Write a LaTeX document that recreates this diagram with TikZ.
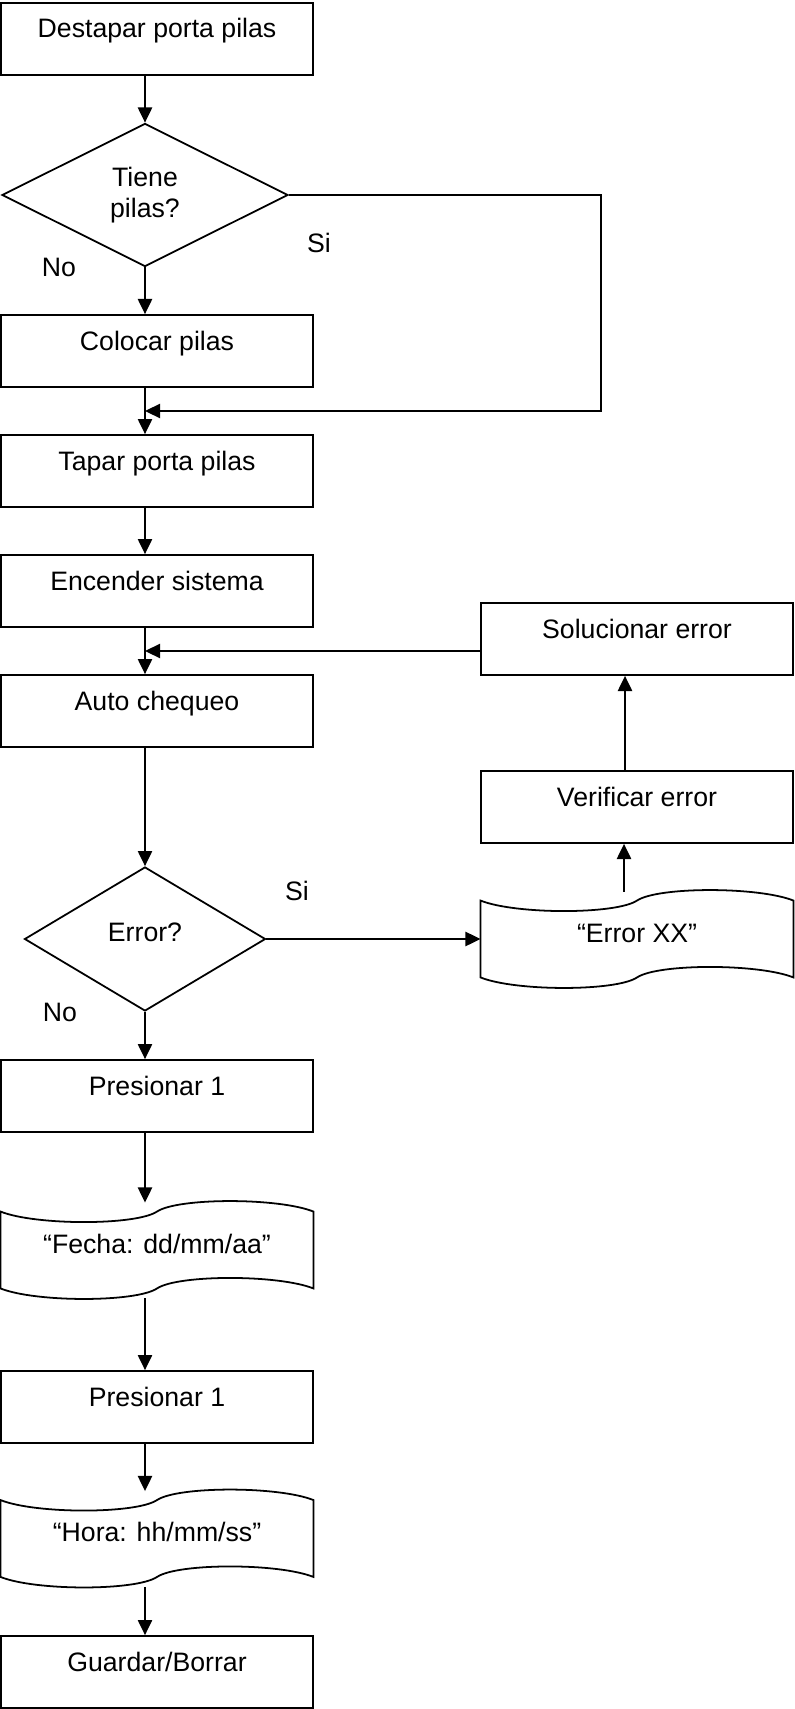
\documentclass[tikz,border=0pt]{standalone}
\usepackage{fontspec}
\setmainfont{Liberation Sans}
\usetikzlibrary{arrows.meta,shapes.geometric,calc}

\tikzset{
  boxline/.style={draw=black, line width=0.8pt},
  stepbox/.style={boxline, rectangle, minimum width=140.4pt, inner xsep=0pt, inner ysep=0pt,
    text height=15.75pt, text depth=16.65pt},
  tapebox/.style={rectangle, draw=none, minimum width=140.4pt, inner xsep=0pt, inner ysep=0pt,
    text height=22.5pt, text depth=20.25pt},
  decision/.style={boxline, diamond, inner sep=0pt, align=center},
  flow/.style={line width=0.8pt, -{Triangle[length=6.8pt,width=6.4pt]}},
  answer/.style={inner sep=0pt},
}

% outline of a punched-tape (display) symbol around a tapebox node
\newcommand\tapeoutline[1]{%
  \draw[boxline]
    ($(#1.north west)+(0,9)$)
      .. controls +(35,14) and +(-21,14) .. ($(#1.north)+(0,9)$)
      .. controls +(21,-14) and +(-35,-14) .. ($(#1.north east)+(0,9)$)
    -- ($(#1.south east)+(0,-10)$)
      .. controls +(-35,-14) and +(21,-14) .. ($(#1.south)+(0,-10)$)
      .. controls +(-21,14) and +(35,14) .. ($(#1.south west)+(0,-10)$)
    -- cycle;}

\begin{document}
\begin{tikzpicture}[x=0.45pt, y=-0.45pt, font=\fontsize{12}{13.9}\selectfont]
  \useasboundingbox (0,0) rectangle (795,1709);

  % main column
  \node[stepbox] (b1) at (157,39) {Destapar porta pilas};
  \node[decision, minimum width=128.7pt, minimum height=64.35pt] (d1) at (145,195) {Tiene\\pilas?};
  \node[stepbox] (b2) at (157,351) {Colocar pilas};
  \node[stepbox] (b3) at (157,471) {Tapar porta pilas};
  \node[stepbox] (b4) at (157,591) {Encender sistema};
  \node[stepbox] (b5) at (157,711) {Auto chequeo};
  \node[decision, minimum width=108.45pt, minimum height=64.8pt, text height=9pt, text depth=7.2pt] (d2) at (145,939) {Error?};
  \node[stepbox] (p1) at (157,1096) {Presionar 1};
  \node[tapebox, minimum height=42.75pt] (fecha) at (157,1250.5) {“Fecha: dd/mm/aa”};
  \node[stepbox] (p2) at (157,1407) {Presionar 1};
  \node[tapebox, minimum height=42.75pt] (hora) at (157,1539) {“Hora: hh/mm/ss”};
  \node[stepbox] (gb) at (157,1672) {Guardar/Borrar};

  % error branch
  \node[stepbox] (sol) at (637,639) {Solucionar error};
  \node[stepbox] (ver) at (637,807) {Verificar error};
  \node[tapebox, minimum height=42.75pt] (errxx) at (637,939.5) {“Error XX”};

  \tapeoutline{fecha}
  \tapeoutline{hora}
  \tapeoutline{errxx}

  % answer labels
  \node[answer] (si1) at (319,243) {Si};
  \node[answer] (no1) at (59,267) {No};
  \node[answer] (si2) at (297,891) {Si};
  \node[answer] (no2) at (60,1012) {No};

  % helper coordinates for connector routing
  \coordinate (spine) at (145,0);
  \coordinate (merge1) at (145,411);
  \coordinate (bypass) at (601,411);
  \coordinate (merge2) at (145,651);
  \coordinate (upx) at (624,0);
  \coordinate (upy) at (625,0);

  % connectors
  \draw[flow] (b1.south -| spine) -- (d1.north);
  \draw[flow] (d1.south) -- (b2.north -| spine);
  \draw[flow] (d1.east) -| (bypass) -- (merge1);
  \draw[flow] (b2.south -| spine) -- (b3.north -| spine);
  \draw[flow] (b3.south -| spine) -- (b4.north -| spine);
  \draw[flow] (b4.south -| spine) -- (b5.north -| spine);
  \draw[flow] (merge2 -| sol.west) -- (merge2);
  \draw[flow] (b5.south -| spine) -- (d2.north);
  \draw[flow] (d2.east) -- (d2.east -| errxx.west);
  \draw[flow] (errxx.north -| upx) -- (ver.south -| upx);
  \draw[flow] (ver.north -| upy) -- (sol.south -| upy);
  \draw[flow] (d2.south) -- (p1.north -| spine);
  \draw[flow] (p1.south -| spine) -- (fecha.north -| spine);
  \draw[flow] (fecha.south -| spine) -- (p2.north -| spine);
  \draw[flow] (p2.south -| spine) -- (hora.north -| spine);
  \draw[flow] (hora.south -| spine) -- (gb.north -| spine);
\end{tikzpicture}
\end{document}
